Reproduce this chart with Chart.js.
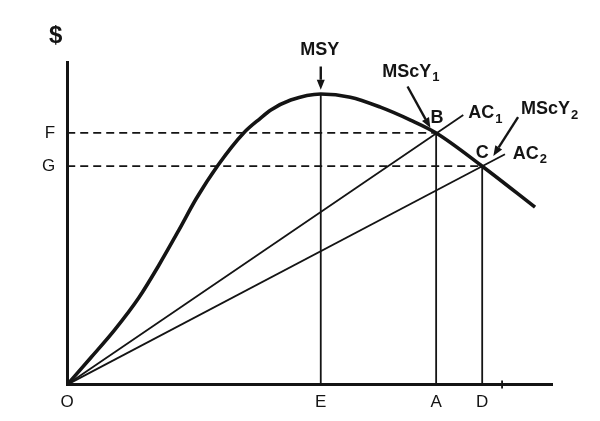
<!DOCTYPE html>
<html>
<head>
<meta charset="utf-8">
<script src="https://cdn.jsdelivr.net/npm/chart.js@4"></script>
<style>
  html, body { margin: 0; padding: 0; background: #fff; overflow: hidden; }
  canvas { display: block; }
</style>
</head>
<body>
<canvas id="chartContainer" width="600" height="421"></canvas>
<script>
// yield curve (sustainable yield vs effort)
const yieldX = [0, 4.9, 9.7, 14.8, 18.9, 23.0, 26.6, 31.1, 36.4, 39.9, 42.0, 46.1, 52.3, 58.4, 64.6, 70.8, 76.1, 85.6, 96.5];
const yieldY = [0, 8.4, 16.8, 27.0, 37.0, 47.8, 57.6, 68.0, 78.0, 82.6, 85.1, 88.2, 90.1, 89.1, 86.0, 82.0, 78.0, 67.7, 55.0];

// points on the x axis
const xTickValues = [0, 52.3, 76.1, 85.6];
const xTickLabels = ['O', 'E', 'A', 'D'];
// points on the y axis
const yTickValues = [67.7, 78.0];
const yTickLabels = ['G', 'F'];

// average cost rays from the origin: end points
const ac1End = [81.7, 83.6];
const ac2End = [90.3, 71.4];
const peakY = 90.1;
const smallTickX = 89.7;

const ink = '#141414';
const fontFamily = '"Liberation Sans", Arial, sans-serif';

function labelFor(values, labels, v) {
  const i = values.findIndex(t => Math.abs(t - v) < 1e-6);
  return i >= 0 ? labels[i] : '';
}

function seg(x0, y0, x1, y1) {
  return [{x: x0, y: y0}, {x: x1, y: y1}];
}

const E = xTickValues[1], A = xTickValues[2], D = xTickValues[3];
const G = yTickValues[0], F = yTickValues[1];

// text and arrows, placed in data units
const notes = [
  {text: '$', x: -2.4, y: 107.8, size: 24},
  {text: 'MSY', x: 52.1, y: 103.8},
  {text: 'MScY', sub: '1', x: 65.0, y: 97.0, align: 'left'},
  {text: 'B', x: 76.3, y: 82.6},
  {text: 'AC', sub: '1', x: 82.7, y: 84.2, align: 'left'},
  {text: 'MScY', sub: '2', x: 93.6, y: 85.4, align: 'left'},
  {text: 'C', x: 85.6, y: 71.8},
  {text: 'AC', sub: '2', x: 91.9, y: 71.6, align: 'left'}
];
const arrows = [
  [52.3, 98.6, 52.3, 91.4],
  [70.2, 92.4, 74.9, 79.6],
  [93.0, 82.9, 87.9, 70.9]
];

const notesPlugin = {
  id: 'notes',
  afterDatasetsDraw(chart) {
    const {ctx, scales: {x, y}} = chart;
    ctx.save();
    ctx.fillStyle = ink;
    ctx.strokeStyle = ink;
    ctx.textBaseline = 'middle';
    ctx.textAlign = 'left';
    notes.forEach(n => {
      const px = x.getPixelForValue(n.x);
      const py = y.getPixelForValue(n.y);
      const size = n.size || 18;
      ctx.font = 'bold ' + size + 'px ' + fontFamily;
      const w = ctx.measureText(n.text).width;
      const left = n.align === 'left' ? px : px - w / 2;
      ctx.fillText(n.text, left, py);
      if (n.sub) {
        ctx.font = 'bold 13px ' + fontFamily;
        ctx.fillText(n.sub, left + w + 1, py + 6);
      }
    });
    arrows.forEach(a => {
      const x0 = x.getPixelForValue(a[0]), y0 = y.getPixelForValue(a[1]);
      const x1 = x.getPixelForValue(a[2]), y1 = y.getPixelForValue(a[3]);
      const ang = Math.atan2(y1 - y0, x1 - x0);
      const head = 10, half = 4;
      ctx.lineWidth = 2.4;
      ctx.beginPath();
      ctx.moveTo(x0, y0);
      ctx.lineTo(x1 - Math.cos(ang) * head, y1 - Math.sin(ang) * head);
      ctx.stroke();
      ctx.beginPath();
      ctx.moveTo(x1, y1);
      ctx.lineTo(x1 - Math.cos(ang) * head - Math.sin(ang) * half, y1 - Math.sin(ang) * head + Math.cos(ang) * half);
      ctx.lineTo(x1 - Math.cos(ang) * head + Math.sin(ang) * half, y1 - Math.sin(ang) * head - Math.cos(ang) * half);
      ctx.closePath();
      ctx.fill();
    });
    ctx.restore();
  }
};

function lineSet(data, width, dash) {
  return {
    data: data,
    borderColor: ink,
    borderWidth: width,
    borderDash: dash || [],
    pointRadius: 0,
    fill: false,
    clip: false
  };
}

const ctx = document.getElementById('chartContainer').getContext('2d');
const chart = new Chart(ctx, {
  type: 'line',
  data: {
    datasets: [
      Object.assign(lineSet(yieldX.map((v, i) => ({x: v, y: yieldY[i]})), 3.6), {cubicInterpolationMode: 'monotone'}),
      lineSet(seg(0, 0, ac1End[0], ac1End[1]), 1.8),
      lineSet(seg(0, 0, ac2End[0], ac2End[1]), 1.8),
      lineSet(seg(E, 0, E, peakY), 1.8),
      lineSet(seg(A, 0, A, F), 1.8),
      lineSet(seg(D, 0, D, G), 1.8),
      lineSet(seg(0, F, A, F), 1.8, [8, 5]),
      lineSet(seg(0, G, D, G), 1.8, [8, 5]),
      {
        data: [{x: smallTickX, y: 0}],
        pointStyle: 'cross',
        pointRadius: 4,
        borderColor: ink,
        borderWidth: 1.8,
        showLine: false,
        clip: false
      }
    ]
  },
  options: {
    responsive: false,
    animation: false,
    events: [],
    layout: {padding: {left: 30, right: 48, top: 62, bottom: 0}},
    plugins: {legend: {display: false}, tooltip: {enabled: false}},
    scales: {
      x: {
        type: 'linear', min: 0, max: 100,
        grid: {display: false, drawTicks: false},
        border: {display: true, color: ink, width: 3},
        afterBuildTicks: s => { s.ticks = xTickValues.map(v => ({value: v})); },
        ticks: {
          color: ink, padding: 8, maxRotation: 0, autoSkip: false,
          font: {family: fontFamily, size: 17},
          callback: v => labelFor(xTickValues, xTickLabels, v)
        }
      },
      y: {
        type: 'linear', min: 0, max: 100,
        grid: {display: false, drawTicks: false},
        border: {display: true, color: ink, width: 3},
        afterBuildTicks: s => { s.ticks = yTickValues.map(v => ({value: v})); },
        ticks: {
          color: ink, padding: 12, autoSkip: false,
          font: {family: fontFamily, size: 17},
          callback: v => labelFor(yTickValues, yTickLabels, v)
        }
      }
    }
  },
  plugins: [notesPlugin]
});
</script>
</body>
</html>
